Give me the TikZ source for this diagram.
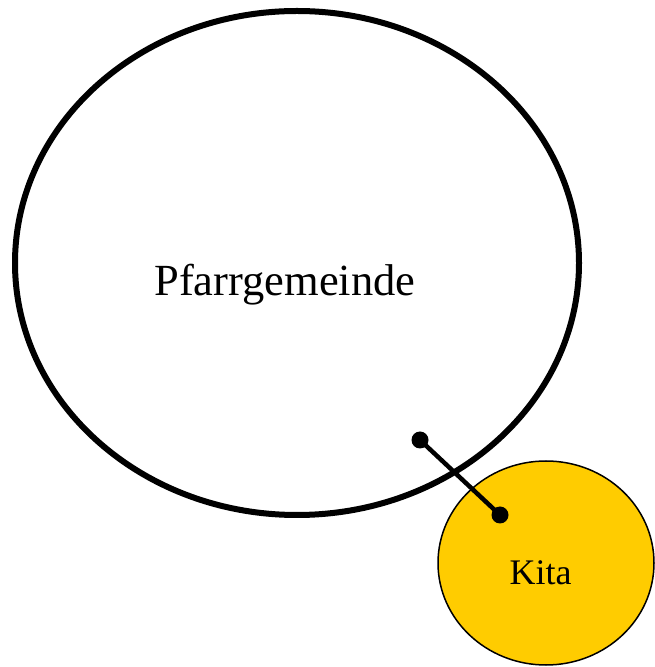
\documentclass[tikz,border=0pt]{standalone}
\usepackage{fontspec}
\setmainfont{Liberation Serif}
\usetikzlibrary{shapes.geometric}
\definecolor{kitayellow}{HTML}{FFCC00}
\begin{document}
\begin{tikzpicture}[x=1pt,y=1pt,
  bigcircle/.style={ellipse,draw=black,line width=6pt,minimum width=564pt,minimum height=504pt,inner sep=0pt},
  smallcircle/.style={ellipse,draw=black,fill=kitayellow,line width=1.5pt,minimum width=216pt,minimum height=204pt,inner sep=0pt},
  label/.style={font=\fontsize{44.5}{50}\selectfont,anchor=base,inner sep=0pt},
  linkline/.style={line width=4.5pt},
  dotend/.style={circle,fill=black,inner sep=0pt,minimum size=17pt}]
\useasboundingbox (0,0) rectangle (655,667);
\node[bigcircle] (pfarr) at (297,404) {};
\node[smallcircle] (kita) at (546,104) {};
\node[label] (pfarrtext) at (285,371) {Pfarrgemeinde};
\node[label,font=\fontsize{36}{40}\selectfont] (kitatext) at (540.5,82) {Kita};
\node[dotend] (d1) at (420,227) {};
\node[dotend] (d2) at (500,152) {};
\draw[linkline] (d1.center) -- (d2.center);
\end{tikzpicture}
\end{document}
